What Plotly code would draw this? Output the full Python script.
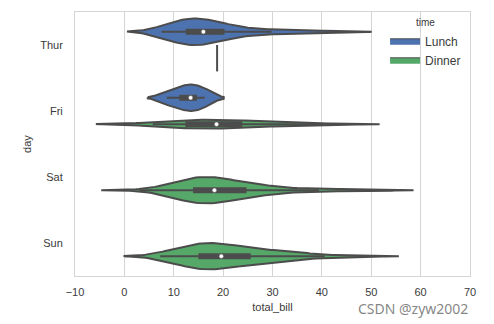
import numpy as np
import plotly.graph_objects as go

days = ["Thur", "Fri", "Sat", "Sun"]
times = ["Lunch", "Dinner"]
colors = {"Lunch": "#4C72B0", "Dinner": "#55A868"}
gray = "#4C4C4C"

thur_lunch = [27.20, 22.76, 17.29, 19.44, 16.66, 10.07, 32.68, 15.98, 34.83, 13.03, 18.28, 24.71, 21.16,
              10.65, 12.43, 24.08, 11.69, 13.42, 14.26, 15.95, 12.48, 29.80, 8.52, 14.52, 11.38, 22.82,
              19.08, 20.27, 11.17, 12.26, 18.26, 8.51, 10.33, 14.15, 16.00, 13.16, 17.47, 34.30, 41.19,
              27.05, 16.43, 8.35, 18.64, 11.87, 9.78, 7.51, 19.81, 28.44, 15.48, 16.58, 7.56, 10.34,
              43.11, 13.00, 13.51, 18.71, 12.74, 13.00, 16.40, 20.53, 16.47]
thur_dinner = [18.78]
fri_lunch = [12.16, 13.42, 8.58, 15.98, 13.42, 16.27, 10.09]
fri_dinner = [28.97, 22.49, 5.75, 16.32, 22.75, 40.17, 27.28, 12.03, 21.01, 12.46, 11.35, 15.38]
sat_dinner = [20.65, 17.92, 20.29, 15.77, 39.42, 19.82, 17.81, 13.37, 12.69, 21.70, 19.65, 9.55, 18.35,
              15.06, 20.69, 17.78, 24.06, 16.31, 16.93, 18.69, 31.27, 16.04, 38.01, 26.41, 11.24, 48.27,
              20.29, 13.81, 11.02, 18.29, 17.59, 20.08, 16.45, 3.07, 20.23, 15.01, 12.02, 17.07, 26.86,
              25.28, 14.73, 10.51, 17.92, 44.30, 22.42, 20.92, 15.36, 20.49, 25.21, 18.24, 14.31, 14.00,
              7.25, 10.59, 10.63, 50.81, 15.81, 26.59, 38.73, 24.27, 12.76, 30.06, 25.89, 48.33, 13.27,
              28.17, 12.90, 28.15, 11.59, 7.74, 30.14, 20.45, 13.28, 22.12, 24.01, 15.69, 11.61, 10.77,
              15.53, 10.07, 12.60, 32.83, 35.83, 29.03, 27.18, 22.67, 17.82]
sun_dinner = [16.99, 10.34, 21.01, 23.68, 24.59, 25.29, 8.77, 26.88, 15.04, 14.78, 10.27, 35.26, 15.42,
              18.43, 14.83, 21.58, 10.33, 16.29, 16.97, 17.46, 13.94, 9.68, 30.40, 18.29, 22.23, 32.40,
              28.55, 18.04, 12.54, 10.29, 34.81, 9.94, 25.56, 19.49, 38.07, 23.95, 25.71, 17.31, 29.93,
              14.07, 13.13, 17.26, 24.55, 19.77, 29.85, 48.17, 25.00, 13.39, 16.49, 21.50, 12.66, 16.21,
              13.81, 17.51, 24.52, 20.76, 31.71, 7.25, 31.85, 16.82, 32.90, 17.89, 14.48, 9.60, 34.63,
              34.65, 23.33, 45.35, 23.17, 40.55, 20.69, 20.90, 30.46, 18.15, 23.10, 15.69]

groups = {
    ("Thur", "Lunch"): thur_lunch, ("Thur", "Dinner"): thur_dinner,
    ("Fri", "Lunch"): fri_lunch, ("Fri", "Dinner"): fri_dinner,
    ("Sat", "Dinner"): sat_dinner, ("Sun", "Dinner"): sun_dinner,
}

WIDTH = 0.8
dwidth = WIDTH / len(times) / 2
offsets = {"Lunch": -dwidth, "Dinner": dwidth}
LW = 2


def kde(vals):
    v = np.asarray(vals, float)
    bw = v.std(ddof=1) * len(v) ** (-1 / 5)
    support = np.linspace(v.min() - 2 * bw, v.max() + 2 * bw, 100)
    dens = np.exp(-0.5 * ((support[:, None] - v[None, :]) / bw) ** 2).sum(1) / (len(v) * bw * np.sqrt(2 * np.pi))
    return support, dens


dens_data = {}
for k, v in groups.items():
    if len(v) > 1:
        dens_data[k] = kde(v)
day_max = {}
for (d, t), (s, dd) in dens_data.items():
    day_max[d] = max(day_max.get(d, 0), dd.max())

fig = go.Figure()
for (d, t), vals in groups.items():
    center = days.index(d) + offsets[t]
    v = np.asarray(vals, float)
    if len(v) == 1:
        fig.add_trace(go.Scatter(x=[v[0], v[0]], y=[center - dwidth, center + dwidth], mode="lines",
                                 line=dict(color=gray, width=LW), showlegend=False, hoverinfo="skip"))
        continue
    s, dd = dens_data[(d, t)]
    hw = dd / day_max[d] * dwidth
    xs = np.concatenate([s, s[::-1], s[:1]])
    ys = np.concatenate([center - hw, (center + hw)[::-1], [center - hw[0]]])
    fig.add_trace(go.Scatter(x=xs, y=ys, mode="lines", fill="toself", fillcolor=colors[t],
                             line=dict(color=gray, width=LW), showlegend=False, hoverinfo="skip"))
    q25, q50, q75 = np.percentile(v, [25, 50, 75])
    lim = 1.5 * (q75 - q25)
    h1 = v[v >= q25 - lim].min()
    h2 = v[v <= q75 + lim].max()
    fig.add_trace(go.Scatter(x=[h1, h2], y=[center, center], mode="lines",
                             line=dict(color=gray, width=LW), showlegend=False, hoverinfo="skip"))
    fig.add_trace(go.Scatter(x=[q25, q75], y=[center, center], mode="lines",
                             line=dict(color=gray, width=LW * 3), showlegend=False, hoverinfo="skip"))
    fig.add_trace(go.Scatter(x=[q50], y=[center], mode="markers",
                             marker=dict(color="white", size=4.5, line=dict(color=gray, width=0.5)),
                             showlegend=False, hoverinfo="skip"))

for t in times:
    fig.add_trace(go.Scatter(x=[None, None, None], y=[None, None, None], mode="lines", name=t,
                             fill="toself", fillcolor=colors[t], line=dict(color=gray, width=1)))

txt = "#3A3A3A"
axis_font = dict(family="Liberation Sans, Arial, sans-serif", size=11, color=txt)
fig.update_layout(
    width=494, height=324,
    margin=dict(l=75, r=24, t=12, b=48),
    paper_bgcolor="white", plot_bgcolor="white",
    font=axis_font,
    showlegend=True,
    legend=dict(x=0.785, y=0.995, xanchor="left", yanchor="top", bgcolor="rgba(0,0,0,0)",
                title=dict(text="time", side="top center", font=dict(size=10, color=txt)),
                font=dict(size=12, color=txt), tracegroupgap=0),
    xaxis=dict(range=[-10, 70], dtick=10, tick0=0, showgrid=True, gridcolor="#D5D5D5", gridwidth=1,
               showline=True, linecolor="#D5D5D5", mirror=True, zeroline=False,
               ticks="outside", ticklen=6, tickcolor="rgba(0,0,0,0)",
               title=dict(text="total_bill", standoff=6, font=dict(size=11, color=txt))),
    yaxis=dict(range=[3.5, -0.5], tickvals=list(range(len(days))), ticktext=days, showgrid=False,
               showline=True, linecolor="#D5D5D5", mirror=True, zeroline=False,
               ticks="outside", ticklen=9, tickcolor="rgba(0,0,0,0)",
               title=dict(text="day", standoff=6, font=dict(size=11, color=txt))),
)
fig.add_annotation(text="CSDN @zyw2002", xref="paper", yref="paper",
                   x=(470 - 75) / 395, y=-(308 - 276) / 264, xanchor="right", yanchor="middle",
                   showarrow=False,
                   font=dict(family="Noto Sans, DejaVu Sans, sans-serif", size=14, color="rgba(110,110,110,0.85)"))
fig.write_html("out.html")
